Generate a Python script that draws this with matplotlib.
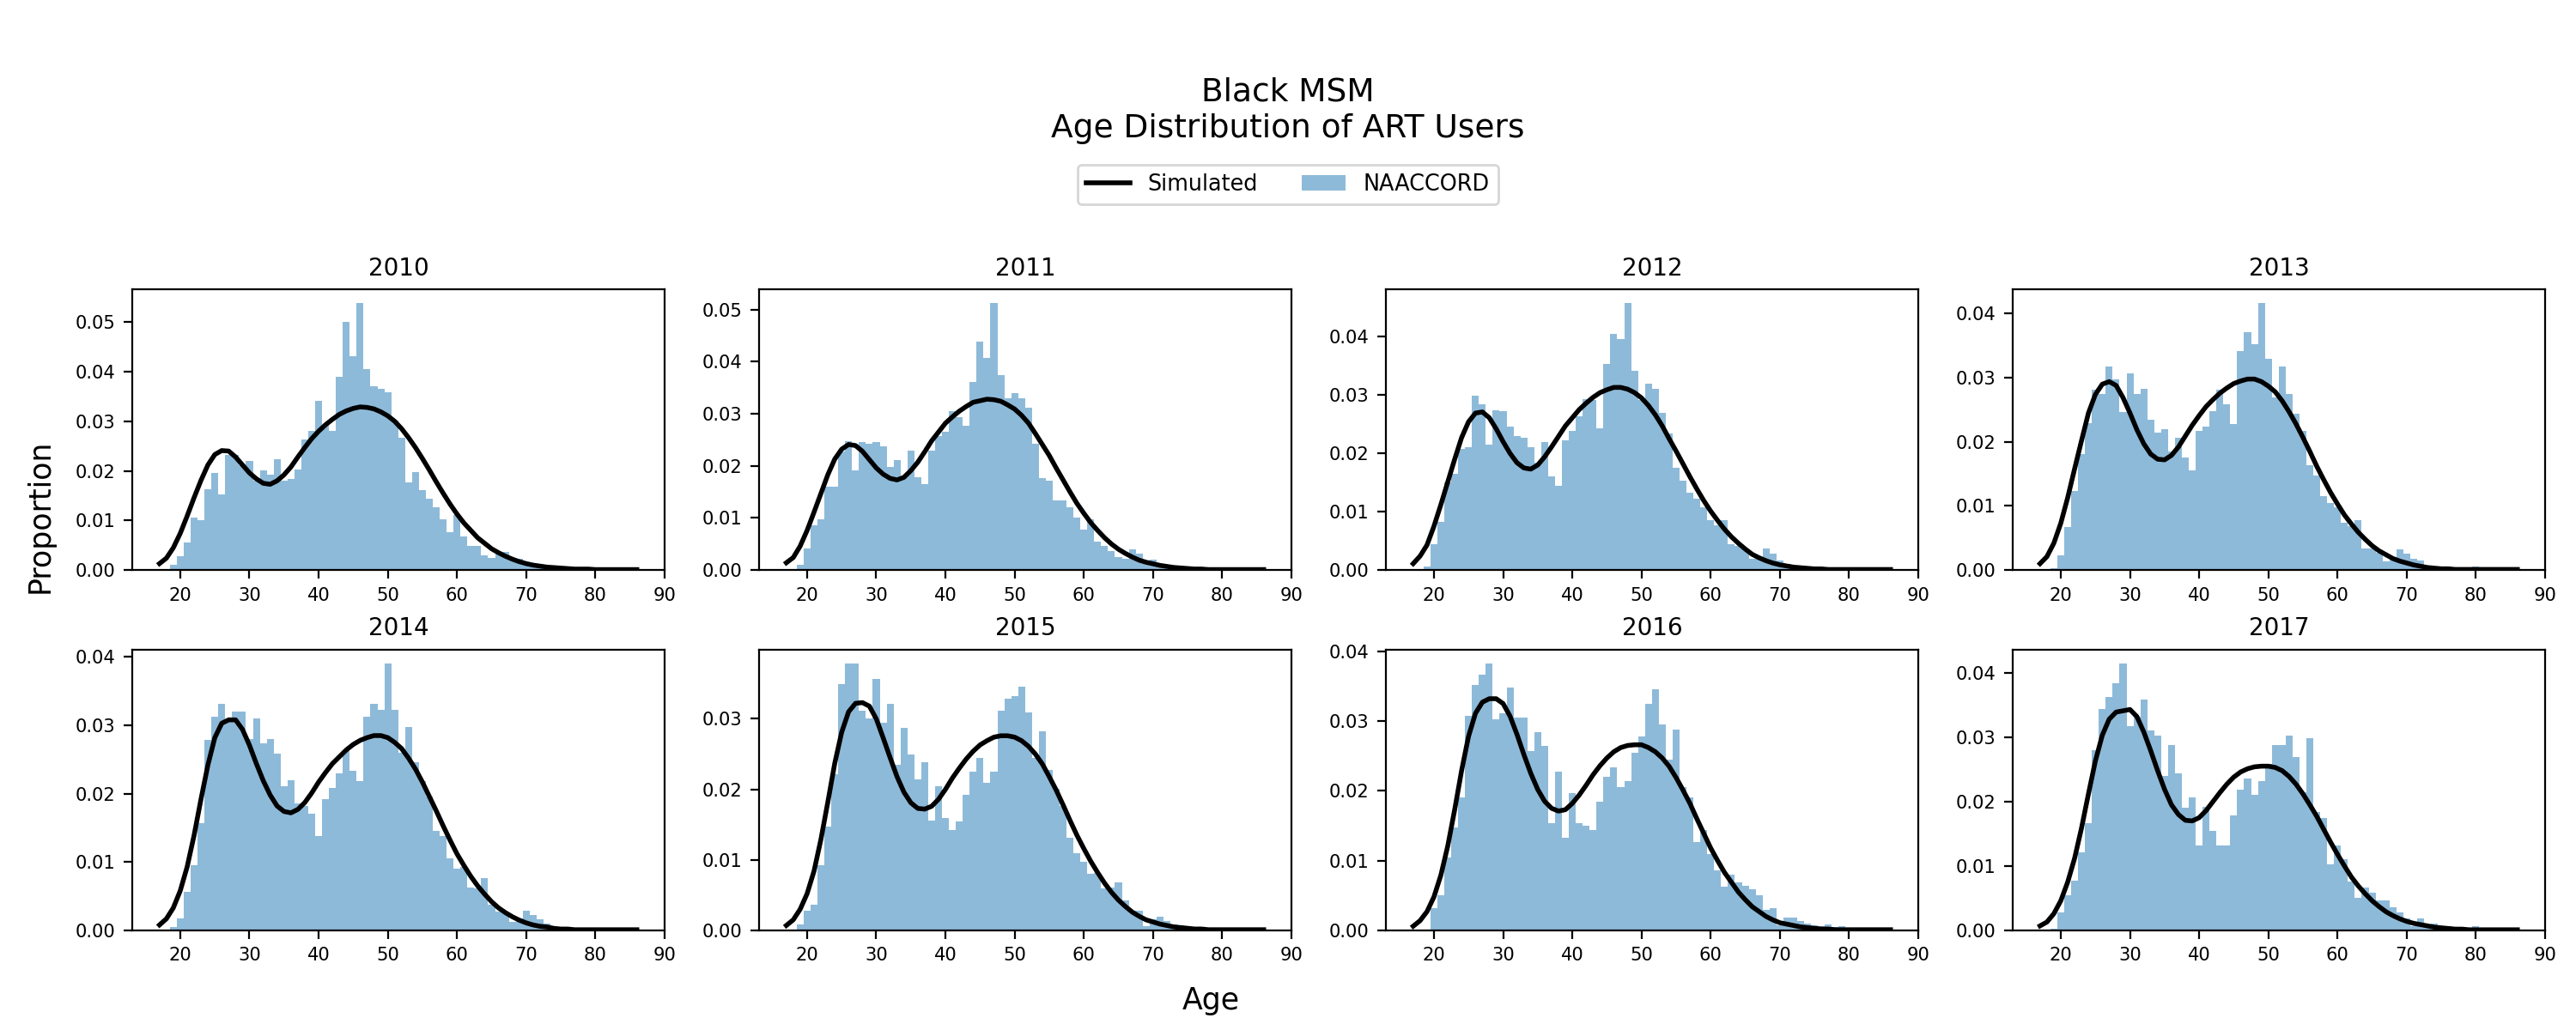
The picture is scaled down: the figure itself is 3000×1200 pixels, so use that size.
import matplotlib
matplotlib.use("Agg")
import matplotlib.pyplot as plt
from matplotlib.ticker import MultipleLocator
import numpy as np

# age of each histogram bar (one bar per year of age) and of the simulated curve
bar_start_age = 19
sim_start_age = 17
years = [2010, 2011, 2012, 2013, 2014, 2015, 2016, 2017]

# NAACCORD proportions, ages 19..85
naaccord_2010 = [0.0010, 0.0028, 0.0055, 0.0106, 0.0101, 0.0163, 0.0196, 0.0153, 0.0233, 0.0232,
                 0.0212, 0.0220, 0.0180, 0.0201, 0.0193, 0.0224, 0.0181, 0.0184, 0.0202, 0.0264,
                 0.0280, 0.0342, 0.0292, 0.0280, 0.0389, 0.0501, 0.0432, 0.0539, 0.0406, 0.0371,
                 0.0366, 0.0359, 0.0302, 0.0267, 0.0176, 0.0198, 0.0162, 0.0144, 0.0127, 0.0103,
                 0.0077, 0.0111, 0.0068, 0.0049, 0.0049, 0.0029, 0.0025, 0.0036, 0.0036, 0.0022,
                 0.0022, 0.0013, 0.0009, 0.0006, 0.0004, 0.0003, 0.0002, 0.0002, 0.0001, 0.0001,
                 0.0001, 0.0005, 0.0001, 0.0001, 0.0001, 0.0000, 0.0000]
naaccord_2011 = [0.0010, 0.0042, 0.0086, 0.0098, 0.0160, 0.0160, 0.0228, 0.0248, 0.0192, 0.0245,
                 0.0243, 0.0245, 0.0238, 0.0198, 0.0211, 0.0180, 0.0229, 0.0178, 0.0165, 0.0229,
                 0.0257, 0.0265, 0.0305, 0.0293, 0.0277, 0.0361, 0.0439, 0.0408, 0.0513, 0.0375,
                 0.0330, 0.0339, 0.0330, 0.0312, 0.0243, 0.0177, 0.0172, 0.0134, 0.0133, 0.0121,
                 0.0100, 0.0077, 0.0098, 0.0055, 0.0046, 0.0037, 0.0025, 0.0021, 0.0039, 0.0032,
                 0.0019, 0.0020, 0.0010, 0.0007, 0.0005, 0.0004, 0.0003, 0.0002, 0.0002, 0.0001,
                 0.0001, 0.0001, 0.0002, 0.0001, 0.0001, 0.0000, 0.0000]
naaccord_2012 = [0.0006, 0.0045, 0.0082, 0.0150, 0.0165, 0.0207, 0.0211, 0.0299, 0.0284, 0.0215,
                 0.0274, 0.0273, 0.0246, 0.0229, 0.0227, 0.0211, 0.0184, 0.0219, 0.0161, 0.0145,
                 0.0223, 0.0239, 0.0264, 0.0293, 0.0292, 0.0243, 0.0353, 0.0405, 0.0396, 0.0458,
                 0.0341, 0.0292, 0.0320, 0.0311, 0.0270, 0.0234, 0.0175, 0.0153, 0.0133, 0.0123,
                 0.0108, 0.0085, 0.0077, 0.0085, 0.0045, 0.0041, 0.0035, 0.0019, 0.0019, 0.0037,
                 0.0028, 0.0016, 0.0011, 0.0006, 0.0004, 0.0003, 0.0002, 0.0002, 0.0001, 0.0001,
                 0.0001, 0.0001, 0.0001, 0.0002, 0.0001, 0.0000, 0.0000]
naaccord_2013 = [0.0003, 0.0023, 0.0067, 0.0123, 0.0181, 0.0229, 0.0282, 0.0275, 0.0318, 0.0297,
                 0.0247, 0.0307, 0.0275, 0.0283, 0.0235, 0.0214, 0.0220, 0.0185, 0.0206, 0.0175,
                 0.0155, 0.0217, 0.0224, 0.0248, 0.0282, 0.0258, 0.0228, 0.0342, 0.0371, 0.0353,
                 0.0417, 0.0329, 0.0270, 0.0318, 0.0275, 0.0244, 0.0217, 0.0164, 0.0147, 0.0116,
                 0.0105, 0.0098, 0.0074, 0.0069, 0.0078, 0.0034, 0.0034, 0.0027, 0.0013, 0.0017,
                 0.0033, 0.0026, 0.0017, 0.0015, 0.0005, 0.0005, 0.0003, 0.0002, 0.0002, 0.0001,
                 0.0001, 0.0006, 0.0001, 0.0001, 0.0002, 0.0001, 0.0000]
naaccord_2014 = [0.0005, 0.0017, 0.0057, 0.0095, 0.0157, 0.0279, 0.0313, 0.0332, 0.0305, 0.0320,
                 0.0320, 0.0280, 0.0310, 0.0274, 0.0280, 0.0259, 0.0211, 0.0220, 0.0186, 0.0182,
                 0.0171, 0.0138, 0.0192, 0.0209, 0.0230, 0.0263, 0.0233, 0.0219, 0.0313, 0.0331,
                 0.0323, 0.0391, 0.0323, 0.0260, 0.0298, 0.0246, 0.0219, 0.0196, 0.0145, 0.0138,
                 0.0105, 0.0090, 0.0093, 0.0063, 0.0061, 0.0077, 0.0037, 0.0027, 0.0026, 0.0012,
                 0.0017, 0.0029, 0.0022, 0.0016, 0.0010, 0.0004, 0.0003, 0.0002, 0.0002, 0.0001,
                 0.0001, 0.0001, 0.0001, 0.0000, 0.0000, 0.0000, 0.0000]
naaccord_2015 = [0.0009, 0.0028, 0.0037, 0.0092, 0.0147, 0.0221, 0.0349, 0.0379, 0.0379, 0.0311,
                 0.0301, 0.0356, 0.0294, 0.0321, 0.0235, 0.0287, 0.0249, 0.0214, 0.0239, 0.0156,
                 0.0204, 0.0159, 0.0142, 0.0154, 0.0192, 0.0225, 0.0244, 0.0209, 0.0225, 0.0311,
                 0.0329, 0.0332, 0.0346, 0.0309, 0.0244, 0.0282, 0.0227, 0.0201, 0.0177, 0.0132,
                 0.0109, 0.0097, 0.0080, 0.0082, 0.0059, 0.0061, 0.0068, 0.0042, 0.0028, 0.0028,
                 0.0006, 0.0016, 0.0019, 0.0013, 0.0009, 0.0007, 0.0005, 0.0004, 0.0003, 0.0002,
                 0.0001, 0.0001, 0.0001, 0.0000, 0.0000, 0.0000, 0.0000]
naaccord_2016 = [0.0000, 0.0032, 0.0050, 0.0104, 0.0147, 0.0191, 0.0308, 0.0352, 0.0366, 0.0383,
                 0.0302, 0.0311, 0.0348, 0.0305, 0.0305, 0.0257, 0.0284, 0.0265, 0.0154, 0.0228,
                 0.0133, 0.0197, 0.0154, 0.0150, 0.0144, 0.0184, 0.0220, 0.0234, 0.0205, 0.0214,
                 0.0255, 0.0278, 0.0325, 0.0346, 0.0295, 0.0245, 0.0288, 0.0205, 0.0191, 0.0127,
                 0.0144, 0.0110, 0.0086, 0.0063, 0.0080, 0.0069, 0.0064, 0.0059, 0.0050, 0.0030,
                 0.0032, 0.0007, 0.0019, 0.0018, 0.0014, 0.0010, 0.0007, 0.0006, 0.0009, 0.0005,
                 0.0006, 0.0002, 0.0001, 0.0001, 0.0000, 0.0000, 0.0000]
naaccord_2017 = [0.0003, 0.0028, 0.0055, 0.0077, 0.0121, 0.0166, 0.0280, 0.0344, 0.0363, 0.0384,
                 0.0415, 0.0317, 0.0332, 0.0359, 0.0311, 0.0303, 0.0240, 0.0288, 0.0244, 0.0191,
                 0.0207, 0.0132, 0.0192, 0.0155, 0.0132, 0.0132, 0.0178, 0.0218, 0.0236, 0.0211,
                 0.0232, 0.0259, 0.0288, 0.0288, 0.0303, 0.0269, 0.0214, 0.0299, 0.0184, 0.0174,
                 0.0103, 0.0132, 0.0111, 0.0076, 0.0051, 0.0066, 0.0059, 0.0047, 0.0047, 0.0036,
                 0.0028, 0.0018, 0.0007, 0.0018, 0.0007, 0.0010, 0.0007, 0.0006, 0.0003, 0.0002,
                 0.0002, 0.0007, 0.0001, 0.0001, 0.0001, 0.0001, 0.0000]

# simulated proportions, ages 17..86
sim_2010 = [0.0013, 0.0024, 0.0045, 0.0074, 0.0109, 0.0146, 0.0181, 0.0212, 0.0233, 0.0241,
            0.0240, 0.0228, 0.0212, 0.0196, 0.0184, 0.0175, 0.0173, 0.0180, 0.0192, 0.0208,
            0.0228, 0.0247, 0.0265, 0.0280, 0.0293, 0.0304, 0.0314, 0.0321, 0.0326, 0.0329,
            0.0328, 0.0325, 0.0319, 0.0311, 0.0300, 0.0285, 0.0267, 0.0247, 0.0225, 0.0202,
            0.0178, 0.0155, 0.0133, 0.0113, 0.0095, 0.0080, 0.0065, 0.0054, 0.0043, 0.0035,
            0.0028, 0.0022, 0.0017, 0.0013, 0.0010, 0.0008, 0.0006, 0.0005, 0.0004, 0.0003,
            0.0002, 0.0002, 0.0002, 0.0001, 0.0001, 0.0001, 0.0001, 0.0001, 0.0001, 0.0001]
sim_2011 = [0.0014, 0.0024, 0.0046, 0.0076, 0.0111, 0.0147, 0.0183, 0.0213, 0.0232, 0.0241,
            0.0239, 0.0228, 0.0212, 0.0196, 0.0184, 0.0176, 0.0173, 0.0178, 0.0191, 0.0207,
            0.0227, 0.0248, 0.0265, 0.0282, 0.0294, 0.0305, 0.0314, 0.0322, 0.0325, 0.0328,
            0.0327, 0.0324, 0.0317, 0.0309, 0.0297, 0.0282, 0.0262, 0.0241, 0.0220, 0.0196,
            0.0173, 0.0150, 0.0128, 0.0109, 0.0091, 0.0076, 0.0062, 0.0050, 0.0040, 0.0032,
            0.0025, 0.0019, 0.0015, 0.0012, 0.0009, 0.0007, 0.0005, 0.0004, 0.0003, 0.0002,
            0.0002, 0.0001, 0.0001, 0.0001, 0.0001, 0.0001, 0.0001, 0.0001, 0.0001, 0.0001]
sim_2012 = [0.0011, 0.0024, 0.0043, 0.0075, 0.0112, 0.0151, 0.0190, 0.0227, 0.0254, 0.0269,
            0.0271, 0.0261, 0.0242, 0.0220, 0.0200, 0.0184, 0.0175, 0.0173, 0.0180, 0.0194,
            0.0211, 0.0229, 0.0247, 0.0261, 0.0275, 0.0286, 0.0296, 0.0304, 0.0309, 0.0313,
            0.0313, 0.0310, 0.0304, 0.0295, 0.0282, 0.0266, 0.0247, 0.0225, 0.0204, 0.0182,
            0.0160, 0.0139, 0.0119, 0.0101, 0.0085, 0.0070, 0.0057, 0.0046, 0.0036, 0.0027,
            0.0021, 0.0016, 0.0012, 0.0009, 0.0007, 0.0005, 0.0004, 0.0003, 0.0002, 0.0002,
            0.0001, 0.0001, 0.0001, 0.0001, 0.0001, 0.0001, 0.0001, 0.0001, 0.0001, 0.0001]
sim_2013 = [0.0010, 0.0021, 0.0042, 0.0073, 0.0113, 0.0158, 0.0202, 0.0245, 0.0274, 0.0290,
            0.0294, 0.0288, 0.0269, 0.0245, 0.0219, 0.0197, 0.0181, 0.0173, 0.0172, 0.0179,
            0.0192, 0.0209, 0.0226, 0.0241, 0.0255, 0.0266, 0.0276, 0.0284, 0.0291, 0.0295,
            0.0298, 0.0298, 0.0294, 0.0287, 0.0278, 0.0264, 0.0247, 0.0228, 0.0207, 0.0185,
            0.0162, 0.0141, 0.0121, 0.0103, 0.0086, 0.0072, 0.0059, 0.0048, 0.0038, 0.0030,
            0.0024, 0.0018, 0.0014, 0.0011, 0.0008, 0.0006, 0.0004, 0.0003, 0.0002, 0.0002,
            0.0001, 0.0001, 0.0001, 0.0001, 0.0001, 0.0001, 0.0001, 0.0001, 0.0001, 0.0001]
sim_2014 = [0.0008, 0.0017, 0.0033, 0.0058, 0.0093, 0.0139, 0.0192, 0.0242, 0.0282, 0.0303,
            0.0308, 0.0308, 0.0294, 0.0271, 0.0244, 0.0219, 0.0198, 0.0182, 0.0174, 0.0172,
            0.0177, 0.0187, 0.0201, 0.0217, 0.0231, 0.0244, 0.0254, 0.0264, 0.0272, 0.0278,
            0.0282, 0.0285, 0.0285, 0.0282, 0.0275, 0.0266, 0.0252, 0.0236, 0.0217, 0.0196,
            0.0175, 0.0153, 0.0132, 0.0112, 0.0095, 0.0079, 0.0065, 0.0053, 0.0042, 0.0033,
            0.0026, 0.0020, 0.0015, 0.0011, 0.0008, 0.0006, 0.0005, 0.0003, 0.0002, 0.0002,
            0.0001, 0.0001, 0.0001, 0.0001, 0.0001, 0.0001, 0.0001, 0.0001, 0.0001, 0.0001]
sim_2015 = [0.0007, 0.0015, 0.0030, 0.0052, 0.0084, 0.0129, 0.0182, 0.0237, 0.0281, 0.0310,
            0.0322, 0.0323, 0.0318, 0.0300, 0.0273, 0.0245, 0.0218, 0.0196, 0.0181, 0.0173,
            0.0172, 0.0176, 0.0186, 0.0200, 0.0216, 0.0230, 0.0243, 0.0254, 0.0263, 0.0269,
            0.0274, 0.0276, 0.0276, 0.0274, 0.0269, 0.0261, 0.0250, 0.0236, 0.0218, 0.0199,
            0.0178, 0.0156, 0.0135, 0.0116, 0.0098, 0.0082, 0.0067, 0.0054, 0.0043, 0.0034,
            0.0026, 0.0020, 0.0015, 0.0012, 0.0009, 0.0007, 0.0005, 0.0004, 0.0003, 0.0002,
            0.0002, 0.0001, 0.0001, 0.0001, 0.0001, 0.0001, 0.0001, 0.0001, 0.0001, 0.0001]
sim_2016 = [0.0006, 0.0014, 0.0027, 0.0048, 0.0079, 0.0121, 0.0173, 0.0229, 0.0278, 0.0311,
            0.0327, 0.0332, 0.0332, 0.0325, 0.0307, 0.0281, 0.0252, 0.0225, 0.0202, 0.0185,
            0.0175, 0.0171, 0.0173, 0.0182, 0.0194, 0.0208, 0.0223, 0.0236, 0.0247, 0.0256,
            0.0262, 0.0265, 0.0266, 0.0266, 0.0262, 0.0256, 0.0247, 0.0235, 0.0219, 0.0201,
            0.0182, 0.0160, 0.0139, 0.0118, 0.0100, 0.0083, 0.0069, 0.0055, 0.0044, 0.0034,
            0.0027, 0.0020, 0.0015, 0.0011, 0.0009, 0.0007, 0.0005, 0.0004, 0.0003, 0.0002,
            0.0002, 0.0001, 0.0001, 0.0001, 0.0001, 0.0001, 0.0001, 0.0001, 0.0001, 0.0001]
sim_2017 = [0.0007, 0.0013, 0.0026, 0.0046, 0.0075, 0.0112, 0.0159, 0.0212, 0.0263, 0.0303,
            0.0328, 0.0339, 0.0341, 0.0343, 0.0332, 0.0308, 0.0279, 0.0248, 0.0219, 0.0195,
            0.0180, 0.0171, 0.0170, 0.0175, 0.0186, 0.0200, 0.0214, 0.0227, 0.0238, 0.0246,
            0.0251, 0.0254, 0.0255, 0.0255, 0.0253, 0.0248, 0.0239, 0.0227, 0.0212, 0.0195,
            0.0177, 0.0157, 0.0137, 0.0118, 0.0100, 0.0083, 0.0069, 0.0057, 0.0046, 0.0037,
            0.0029, 0.0023, 0.0018, 0.0014, 0.0011, 0.0009, 0.0007, 0.0005, 0.0004, 0.0003,
            0.0002, 0.0002, 0.0001, 0.0001, 0.0001, 0.0001, 0.0001, 0.0001, 0.0001, 0.0001]

naaccord = [naaccord_2010, naaccord_2011, naaccord_2012, naaccord_2013,
            naaccord_2014, naaccord_2015, naaccord_2016, naaccord_2017]
simulated = [sim_2010, sim_2011, sim_2012, sim_2013,
             sim_2014, sim_2015, sim_2016, sim_2017]

fig, axes = plt.subplots(2, 4, figsize=(15, 6), dpi=200)
plt.subplots_adjust(left=0.0513, right=0.988, bottom=0.0967, top=0.719,
                    wspace=0.1774, hspace=0.284)

for ax, year, obs, sim in zip(axes.flat, years, naaccord, simulated):
    bar_ages = np.arange(bar_start_age, bar_start_age + len(obs))
    sim_ages = np.arange(sim_start_age, sim_start_age + len(sim))
    bars = ax.bar(bar_ages, obs, width=1.0, color='tab:blue', alpha=0.5, linewidth=0)
    line, = ax.plot(sim_ages, sim, color='black', linewidth=2.0)
    ax.set_xlim(13.05, 90)
    ax.set_xticks([20, 30, 40, 50, 60, 70, 80, 90])
    ax.yaxis.set_major_locator(MultipleLocator(0.01))
    ax.set_title(str(year), fontsize=10)
    ax.tick_params(labelsize=7.6)

# legend, shared by all panels
fig.legend([line, bars], ['Simulated', 'NAACCORD'], loc='center',
           bbox_to_anchor=(0.5, 0.821), ncol=2, fontsize=9.2)

fig.suptitle('Black MSM\nAge Distribution of ART Users', fontsize=13.5, y=0.925)
fig.text(0.47, 0.028, 'Age', ha='center', va='center', fontsize=12.5)
fig.text(0.0156, 0.499, 'Proportion', ha='center', va='center', rotation=90, fontsize=12.5)

plt.savefig('out.png', dpi=200)
